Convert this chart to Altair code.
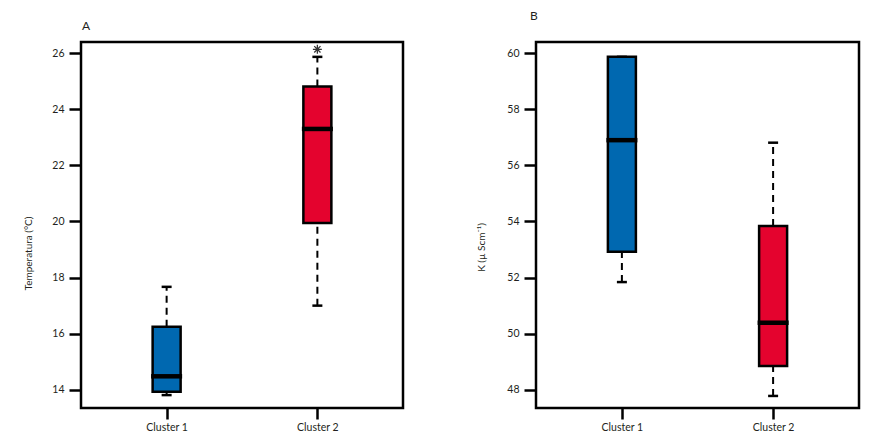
import altair as alt
import pandas as pd

clusters = ["Cluster 1", "Cluster 2"]
box_colors = ["#0068b0", "#e4032e"]

# Panel A: Temperatura (°C)
temp_lower = [13.81, 17.00]
temp_q1 = [13.93, 19.95]
temp_median = [14.48, 23.30]
temp_q3 = [16.25, 24.81]
temp_upper = [17.67, 25.87]
temp_outlier_cluster = ["Cluster 2"]
temp_outlier_value = [26.14]

# Panel B: K (µ Scm-1)
k_lower = [51.84, 47.78]
k_q1 = [52.92, 48.85]
k_median = [56.90, 50.39]
k_q3 = [59.87, 53.84]
k_upper = [59.87, 56.81]

FONT = "Lato"
TXT = "#231f20"


def panel(lower, q1, med, q3, upper, domain, ticks, ytitle, title, title_dx, title_offset,
          title_x, title_y, width, outliers=None):
    df = pd.DataFrame({
        "cluster": clusters, "lower": lower, "q1": q1, "median": med,
        "q3": q3, "upper": upper, "color": box_colors,
    })
    x = alt.X("cluster:N", scale=alt.Scale(type="point", padding=0.568, domain=clusters),
              axis=alt.Axis(title=None, labelAngle=0, tickSize=11, labelPadding=3,
                            labelFontSize=10.5))
    yscale = alt.Scale(domain=domain, nice=False, zero=False)
    yaxis = alt.Axis(values=ticks, title=ytitle, tickSize=12, labelPadding=5,
                     labelFontSize=10.5,
                     titleAngle=-90, titleX=title_x, titleY=title_y,
                     titleAlign="center", titleBaseline="middle",
                     titleFontWeight="normal", titleFontSize=10, titleColor=TXT)
    base = alt.Chart(df)
    up_whisk = base.mark_rule(strokeDash=[7, 5], strokeWidth=2, color="black").encode(
        x=x, y=alt.Y("q3:Q", scale=yscale, axis=yaxis), y2="upper:Q")
    lo_whisk = base.mark_rule(strokeDash=[7, 5], strokeWidth=2, color="black").encode(
        x=x, y=alt.Y("lower:Q", scale=yscale), y2="q1:Q")
    up_cap = base.mark_tick(size=10, thickness=2.5, color="black", opacity=1).encode(
        x=x, y=alt.Y("upper:Q", scale=yscale))
    lo_cap = base.mark_tick(size=10, thickness=2.5, color="black", opacity=1).encode(
        x=x, y=alt.Y("lower:Q", scale=yscale))
    box = base.mark_bar(size=28, stroke="black", strokeWidth=2.5, opacity=1).encode(
        x=x, y=alt.Y("q1:Q", scale=yscale), y2="q3:Q",
        fill=alt.Fill("color:N", scale=None))
    med_tick = base.mark_tick(size=31, thickness=4.5, color="black", opacity=1).encode(
        x=x, y=alt.Y("median:Q", scale=yscale))
    layers = [up_whisk, lo_whisk, up_cap, lo_cap, box, med_tick]
    if outliers is not None:
        odf = pd.DataFrame({"cluster": outliers[0], "value": outliers[1]})
        star = alt.Chart(odf).mark_point(
            shape="M-1,0L1,0M0,-1L0,1M-0.7,-0.7L0.7,0.7M-0.7,0.7L0.7,-0.7",
            filled=False, size=80, strokeWidth=1.3, color="#333333", opacity=1).encode(
            x=x, y=alt.Y("value:Q", scale=yscale))
        layers.append(star)
    return alt.layer(*layers).properties(
        width=width, height=366,
        title=alt.TitleParams(title, anchor="start", frame="group", dx=title_dx,
                              offset=title_offset, fontSize=12, fontWeight="normal",
                              font=FONT, color=TXT),
    )


chart_a = panel(temp_lower, temp_q1, temp_median, temp_q3, temp_upper,
                [13.35, 26.40], [14, 16, 18, 20, 22, 24, 26], "Temperatura (°C)",
                "A", 1, 9, -53, 211, 322,
                outliers=(temp_outlier_cluster, temp_outlier_value))
chart_b = panel(k_lower, k_q1, k_median, k_q3, k_upper,
                [47.35, 60.40], [48, 50, 52, 54, 56, 58, 60], "K (µ Scm⁻¹)",
                "B", -6, 19, -55, 205, 323)

chart = alt.hconcat(chart_a, chart_b, spacing=69).properties(
    padding={"left": 13, "top": 0, "right": 5, "bottom": 5}
).configure_view(stroke="black", strokeWidth=2.5).configure_axis(
    domain=False, grid=False, tickColor="black", tickWidth=2.5,
    labelFont=FONT, labelFontSize=10, labelColor=TXT, titleFont=FONT,
)

chart.save("out.html", embed_options={"renderer": "svg", "actions": False})
